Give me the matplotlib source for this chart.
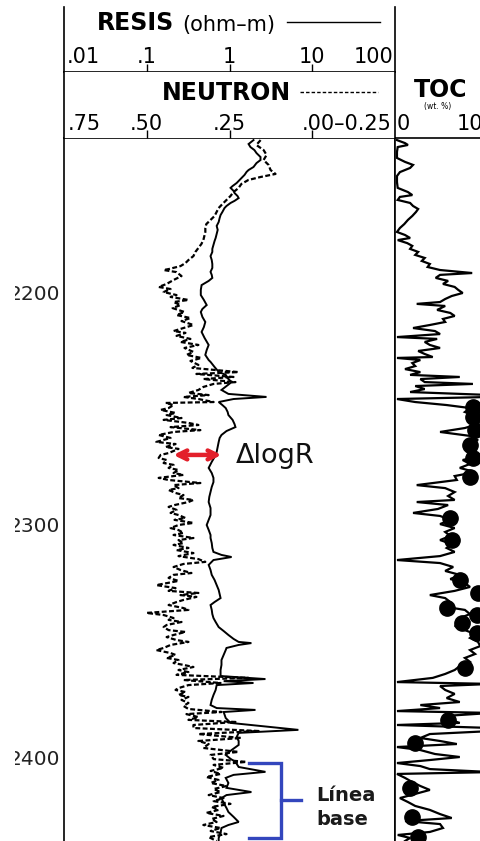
import matplotlib
matplotlib.use("Agg")
import matplotlib.pyplot as plt
from matplotlib.patches import Rectangle
from matplotlib.ticker import NullLocator

# ---------------- data ----------------
RES_DEPTH = [2134.1, 2135.8, 2137.1, 2138.4, 2139.7, 2141.4, 2142.7, 2144.0, 2145.7, 2147.0,
             2147.8, 2149.1, 2150.4, 2151.7, 2152.6, 2153.9, 2154.7, 2156.0, 2156.9, 2158.2,
             2159.1, 2160.3, 2161.2, 2162.5, 2163.4, 2165.1, 2166.4, 2167.7, 2169.4, 2171.1,
             2172.8, 2174.6, 2176.3, 2177.6, 2179.3, 2181.0, 2182.3, 2184.1, 2185.8, 2187.5,
             2189.2, 2190.9, 2192.2, 2193.5, 2194.8, 2196.6, 2198.7, 2200.9, 2203.0, 2205.2,
             2206.9, 2208.2, 2210.3, 2212.5, 2214.7, 2216.8, 2219.4, 2222.4, 2224.6, 2226.7,
             2228.9, 2229.7, 2231.9, 2234.0, 2235.3, 2237.1, 2238.4, 2240.1, 2241.8, 2243.5,
             2244.8, 2245.7, 2247.0, 2248.3, 2249.6, 2251.3, 2252.6, 2254.7, 2256.5, 2257.8,
             2259.5, 2261.2, 2262.5, 2264.2, 2266.4, 2268.5, 2270.7, 2272.8, 2275.4, 2277.6,
             2279.7, 2281.5, 2283.6, 2285.8, 2287.9, 2290.1, 2292.7, 2295.7, 2297.8, 2300.0,
             2302.1, 2304.3, 2305.6, 2307.8, 2309.9, 2311.6, 2312.9, 2313.8, 2315.1, 2317.2,
             2319.4, 2321.5, 2323.7, 2325.9, 2328.0, 2329.7, 2331.5, 2333.2, 2334.5, 2336.6,
             2338.4, 2340.1, 2341.8, 2344.0, 2345.7, 2347.4, 2349.1, 2350.4, 2350.9, 2351.7,
             2353.0, 2353.9, 2356.0, 2358.2, 2360.3, 2362.5, 2363.8, 2365.1, 2366.4, 2367.3,
             2368.1, 2369.0, 2371.1, 2373.3, 2375.4, 2377.6, 2378.9, 2379.7, 2380.6, 2383.2,
             2385.3, 2388.3, 2389.6, 2391.4, 2393.1, 2394.8, 2397.0, 2399.1, 2400.8, 2402.1,
             2404.3, 2406.4, 2407.7, 2409.0, 2411.2, 2413.3, 2415.1, 2416.4, 2417.7, 2419.8,
             2422.0, 2423.7, 2425.8, 2428.0, 2429.3, 2430.6, 2432.7, 2434.9, 2436.2]
RES_OHMM = [1.95, 1.70, 1.79, 2.00, 2.12, 2.37, 2.37, 2.12, 1.95, 1.70,
            1.61, 1.52, 1.40, 1.29, 1.22, 1.09, 1.03, 1.12, 1.15, 1.25,
            1.29, 1.15, 1.03, 0.92, 0.87, 0.82, 0.78, 0.76, 0.74, 0.70,
            0.72, 0.70, 0.68, 0.66, 0.64, 0.62, 0.62, 0.59, 0.61, 0.62,
            0.62, 0.59, 0.61, 0.62, 0.56, 0.46, 0.45, 0.45, 0.49, 0.53,
            0.47, 0.45, 0.47, 0.51, 0.49, 0.46, 0.50, 0.56, 0.53, 0.51,
            0.56, 0.59, 0.66, 0.74, 0.90, 0.97, 1.06, 0.92, 0.80, 0.97,
            2.80, 1.12, 0.74, 0.82, 0.90, 0.95, 0.97, 1.09, 1.15, 1.18,
            0.92, 0.80, 0.76, 0.74, 0.72, 0.70, 0.66, 0.61, 0.56, 0.61,
            0.64, 0.64, 0.61, 0.59, 0.57, 0.56, 0.59, 0.59, 0.56, 0.53,
            0.56, 0.59, 0.59, 0.61, 0.62, 0.64, 0.80, 1.06, 0.64, 0.56,
            0.59, 0.61, 0.66, 0.70, 0.74, 0.76, 0.78, 0.66, 0.59, 0.61,
            0.62, 0.64, 0.68, 0.74, 0.85, 0.97, 1.12, 1.29, 1.84, 1.29,
            0.92, 0.90, 0.85, 0.80, 0.80, 0.78, 0.78, 0.78, 2.72, 0.85,
            1.95, 0.70, 0.68, 0.64, 0.61, 0.59, 0.70, 2.06, 0.85, 0.90,
            1.03, 6.80, 1.29, 1.22, 1.29, 1.29, 1.06, 0.90, 1.03, 1.18,
            1.29, 2.72, 1.12, 0.90, 0.97, 0.92, 1.84, 0.92, 0.80, 0.85,
            0.92, 0.97, 1.12, 1.29, 0.97, 0.80, 0.78, 0.74, 0.74]

NEU_DEPTH = [2134.1, 2136.2, 2138.4, 2140.5, 2142.7, 2144.8, 2147.0, 2148.7, 2150.0, 2151.3,
             2153.0, 2154.8, 2156.5, 2158.2, 2159.9, 2161.6, 2163.4, 2165.1, 2166.8, 2168.5,
             2170.3, 2172.0, 2173.7, 2175.4, 2177.2, 2178.9, 2180.6, 2182.3, 2184.1, 2185.8,
             2187.1, 2188.4, 2189.7, 2190.1, 2191.0, 2192.7, 2194.4, 2196.1, 2197.4, 2198.3,
             2199.6, 2200.9, 2201.7, 2203.0, 2203.9, 2205.2, 2206.5, 2208.2, 2209.5, 2210.8,
             2212.1, 2213.8, 2215.1, 2216.4, 2217.2, 2218.5, 2219.8, 2221.1, 2222.4, 2223.7,
             2225.4, 2226.7, 2228.0, 2229.3, 2231.0, 2232.3, 2234.1, 2234.9, 2236.2, 2237.1,
             2238.4, 2239.2, 2240.5, 2241.8, 2243.1, 2244.0, 2244.8, 2245.7, 2247.0, 2247.4,
             2248.3, 2249.6, 2250.4, 2251.7, 2252.6, 2253.9, 2254.7, 2256.0, 2256.9, 2257.8,
             2259.1, 2259.9, 2261.2, 2262.5, 2264.2, 2265.1, 2266.4, 2267.2, 2269.0, 2269.8,
             2271.1, 2272.0, 2273.3, 2274.1, 2275.4, 2276.3, 2277.6, 2278.4, 2279.7, 2280.6,
             2281.9, 2282.8, 2284.1, 2284.9, 2286.2, 2287.1, 2288.4, 2289.2, 2290.1, 2291.4,
             2292.2, 2293.5, 2294.8, 2295.7, 2297.0, 2297.8, 2299.1, 2300.0, 2301.3, 2302.2,
             2303.4, 2304.3, 2305.6, 2306.5, 2307.8, 2308.6, 2309.9, 2310.8, 2312.1, 2313.4,
             2314.7, 2315.9, 2316.8, 2318.1, 2319.4, 2320.7, 2321.5, 2322.8, 2324.1, 2325.9,
             2327.2, 2328.4, 2329.3, 2330.2, 2331.0, 2332.3, 2333.2, 2334.5, 2335.8, 2336.6,
             2337.9, 2338.8, 2340.1, 2340.9, 2341.8, 2343.1, 2344.0, 2345.3, 2346.1, 2347.4,
             2348.3, 2349.6, 2350.4, 2351.7, 2353.0, 2353.9, 2355.2, 2356.0, 2357.3, 2358.2,
             2359.5, 2360.3, 2361.2, 2362.5, 2363.4, 2364.6, 2365.9, 2366.8, 2368.1, 2369.0,
             2370.3, 2371.1, 2372.0, 2373.3, 2374.1, 2375.4, 2376.7, 2378.0, 2379.3, 2380.6,
             2381.5, 2382.8, 2384.0, 2384.9, 2386.2, 2387.5, 2388.8, 2390.1, 2391.8, 2393.1,
             2394.4, 2396.1, 2397.8, 2399.1, 2400.9, 2402.1, 2403.4, 2404.7, 2406.0, 2407.3,
             2408.6, 2409.9, 2411.2, 2412.5, 2413.8, 2415.1, 2416.4, 2417.7, 2419.0, 2420.2,
             2421.5, 2422.8, 2424.1, 2425.4, 2426.7, 2428.0, 2429.3, 2430.6, 2431.9, 2433.2,
             2434.5, 2436.2]
NEU_FRAC = [0.156, 0.169, 0.147, 0.138, 0.147, 0.132, 0.126, 0.111, 0.156, 0.193,
            0.214, 0.223, 0.238, 0.247, 0.259, 0.271, 0.283, 0.289, 0.295, 0.307,
            0.320, 0.323, 0.323, 0.326, 0.329, 0.335, 0.344, 0.353, 0.359, 0.374,
            0.383, 0.398, 0.434, 0.449, 0.410, 0.395, 0.419, 0.440, 0.464, 0.428,
            0.449, 0.410, 0.428, 0.374, 0.419, 0.398, 0.422, 0.386, 0.410, 0.368,
            0.395, 0.359, 0.389, 0.419, 0.383, 0.410, 0.368, 0.398, 0.344, 0.386,
            0.359, 0.380, 0.335, 0.368, 0.344, 0.362, 0.223, 0.350, 0.238, 0.329,
            0.232, 0.298, 0.329, 0.344, 0.374, 0.313, 0.389, 0.344, 0.298, 0.443,
            0.419, 0.434, 0.458, 0.413, 0.440, 0.395, 0.449, 0.374, 0.344, 0.428,
            0.338, 0.419, 0.464, 0.428, 0.471, 0.413, 0.443, 0.404, 0.434, 0.458,
            0.464, 0.440, 0.449, 0.419, 0.434, 0.404, 0.419, 0.389, 0.464, 0.434,
            0.338, 0.419, 0.404, 0.434, 0.413, 0.389, 0.404, 0.359, 0.374, 0.416,
            0.434, 0.410, 0.428, 0.404, 0.383, 0.416, 0.359, 0.404, 0.428, 0.404,
            0.389, 0.419, 0.359, 0.404, 0.389, 0.419, 0.374, 0.410, 0.359, 0.404,
            0.344, 0.323, 0.389, 0.419, 0.398, 0.365, 0.419, 0.434, 0.404, 0.471,
            0.413, 0.434, 0.344, 0.398, 0.350, 0.389, 0.410, 0.434, 0.389, 0.374,
            0.501, 0.449, 0.419, 0.434, 0.395, 0.440, 0.449, 0.434, 0.383, 0.419,
            0.440, 0.410, 0.374, 0.428, 0.449, 0.471, 0.428, 0.413, 0.440, 0.404,
            0.419, 0.389, 0.359, 0.404, 0.374, 0.410, 0.193, 0.389, 0.277, 0.374,
            0.404, 0.413, 0.383, 0.404, 0.374, 0.395, 0.374, 0.389, 0.374, 0.274,
            0.380, 0.344, 0.374, 0.232, 0.359, 0.359, 0.162, 0.344, 0.214, 0.344,
            0.313, 0.329, 0.223, 0.307, 0.298, 0.199, 0.298, 0.268, 0.307, 0.277,
            0.320, 0.283, 0.307, 0.259, 0.298, 0.277, 0.313, 0.268, 0.298, 0.247,
            0.304, 0.283, 0.320, 0.268, 0.304, 0.289, 0.329, 0.277, 0.307, 0.259,
            0.313, 0.289]

TOC_DEPTH = [2134.1, 2135.4, 2136.2, 2137.1, 2139.2, 2141.8, 2143.5, 2144.8, 2146.1, 2147.9,
             2149.6, 2152.2, 2154.7, 2156.5, 2157.8, 2158.6, 2159.9, 2161.2, 2162.5, 2163.8,
             2165.1, 2166.8, 2168.5, 2170.3, 2172.0, 2173.7, 2175.0, 2176.3, 2177.2, 2178.5,
             2179.7, 2181.0, 2182.3, 2183.6, 2184.9, 2186.2, 2187.5, 2188.8, 2190.1, 2191.4,
             2192.2, 2193.5, 2194.8, 2196.1, 2197.4, 2198.7, 2200.0, 2201.3, 2202.6, 2203.9,
             2204.7, 2205.6, 2207.3, 2208.6, 2209.9, 2211.2, 2212.5, 2213.8, 2215.1, 2216.4,
             2217.7, 2219.0, 2219.8, 2221.1, 2222.4, 2223.7, 2225.0, 2226.3, 2227.6, 2228.0,
             2228.9, 2230.2, 2231.5, 2232.8, 2234.1, 2235.3, 2236.2, 2237.1, 2238.4, 2239.2,
             2240.1, 2241.4, 2242.7, 2244.0, 2244.8, 2245.7, 2247.0, 2248.3, 2249.6, 2251.3,
             2253.0, 2254.7, 2256.5, 2258.2, 2259.9, 2261.6, 2263.4, 2265.1, 2266.8, 2268.5,
             2270.3, 2272.0, 2273.7, 2275.4, 2277.2, 2278.9, 2280.6, 2282.8, 2284.1, 2285.8,
             2287.5, 2289.2, 2290.1, 2291.4, 2293.1, 2294.8, 2296.1, 2297.8, 2299.6, 2301.3,
             2303.0, 2304.7, 2306.5, 2308.2, 2309.9, 2311.6, 2313.4, 2315.1, 2316.4, 2318.1,
             2319.8, 2321.5, 2323.3, 2325.0, 2326.7, 2328.4, 2330.2, 2331.5, 2333.2, 2334.9,
             2336.6, 2338.4, 2340.1, 2341.8, 2343.5, 2345.3, 2347.0, 2348.7, 2350.4, 2352.2,
             2353.9, 2355.6, 2357.3, 2359.0, 2360.8, 2362.5, 2364.2, 2365.9, 2367.7, 2368.5,
             2369.4, 2371.1, 2372.8, 2374.6, 2376.3, 2377.6, 2378.9, 2380.2, 2381.0, 2382.3,
             2384.0, 2385.3, 2386.2, 2387.5, 2388.8, 2390.1, 2391.8, 2393.1, 2394.4, 2395.7,
             2397.0, 2398.7, 2400.0, 2401.3, 2402.6, 2403.9, 2405.2, 2406.5, 2407.3, 2409.0,
             2410.8, 2412.5, 2414.2, 2415.9, 2417.7, 2419.4, 2421.1, 2422.8, 2424.6, 2426.3,
             2427.6, 2428.9, 2430.6, 2432.3, 2433.6, 2434.9, 2436.2]
TOC_WT = [0.0, 1.1, 1.5, 0.1, 0.0, 0.0, 1.1, 2.2, 1.8, 0.4,
          0.0, 0.0, 0.1, 1.5, 2.1, 0.4, 0.1, 1.8, 2.2, 2.9,
          2.6, 2.1, 1.5, 1.0, 0.4, 0.0, 1.1, 1.8, 0.1, 1.4,
          2.1, 1.8, 2.9, 2.5, 3.8, 3.4, 4.5, 4.2, 5.9, 10.3,
          5.9, 5.3, 7.0, 6.3, 7.9, 8.4, 9.0, 7.5, 6.6, 5.9,
          2.7, 6.6, 5.5, 7.3, 7.9, 6.3, 6.6, 4.5, 2.2, 5.2,
          5.9, 0.0, 5.5, 3.8, 4.5, 5.9, 2.9, 3.8, 4.9, 0.0,
          3.2, 2.1, 2.5, 1.1, 3.2, 1.8, 8.6, 3.2, 3.8, 10.4,
          2.5, 3.8, 1.8, 13.0, 13.0, 0.0, 2.5, 6.8, 10.0, 9.3,
          10.7, 10.0, 11.1, 9.3, 5.9, 10.0, 11.1, 9.3, 10.3, 9.7,
          11.1, 9.0, 10.0, 8.6, 10.7, 7.9, 8.2, 2.7, 6.6, 7.9,
          7.0, 7.9, 2.7, 7.0, 5.6, 2.2, 5.9, 7.3, 5.9, 7.9,
          6.6, 7.3, 5.9, 7.5, 6.8, 7.9, 5.9, 0.0, 5.9, 7.7,
          6.6, 8.6, 7.3, 9.3, 10.0, 7.9, 4.5, 6.6, 7.3, 5.9,
          9.3, 10.0, 8.6, 10.0, 7.9, 9.3, 10.7, 10.0, 11.1, 11.4,
          10.0, 10.7, 9.3, 10.0, 8.6, 7.9, 6.6, 4.9, 0.0, 13.0,
          5.9, 6.6, 7.9, 6.8, 8.6, 3.2, 5.9, 0.0, 13.0, 6.6,
          7.3, 8.6, 0.0, 13.0, 13.0, 4.5, 3.2, 5.9, 8.2, 0.0,
          3.2, 5.2, 8.6, 4.5, 0.0, 3.2, 4.5, 13.0, 0.0, 1.1,
          2.1, 3.2, 4.5, 2.5, 0.4, 1.5, 2.5, 4.5, 5.9, 7.5,
          1.1, 5.9, 6.3, 4.5, 0.1, 1.8, 1.1]

CORE_DEPTH = [2249.1, 2253.4, 2259.1, 2265.5, 2271.1, 2279.3, 2297.0, 2306.5, 2323.7, 2329.3,
              2335.8, 2338.8, 2342.2, 2346.5, 2361.6, 2384.0, 2394.0, 2413.3, 2425.8, 2434.5]
CORE_TOC = [10.4, 10.4, 10.7, 10.0, 10.4, 10.0, 7.3, 7.5, 8.6, 11.1,
            6.8, 11.0, 8.9, 11.0, 9.3, 7.0, 2.5, 1.8, 2.1, 2.9]

DEPTH_TICKS = [2200, 2300, 2400]
RES_TICKS = [0.01, 0.1, 1, 10, 100]
RES_TICK_LABELS = [".01", ".1", "1", "10", "100"]
NEU_TICKS = [0.75, 0.50, 0.25, 0.00, -0.25]
NEU_TICK_LABELS = [".75", ".50", ".25", ".00\u20130.25"]
TOC_TICKS = [0, 10]

# annotation anchors (data coordinates)
ARROW_DEPTH = 2269.8
ARROW_FROM, ARROW_TO = 0.21, 0.80
DLOGR_X, DLOGR_DEPTH = 1.18, 2273.3
BRACKET_TOP, BRACKET_BOT, BRACKET_MID = 2402.6, 2434.9, 2418.5
BRACKET_ARM, BRACKET_SPINE, BRACKET_TIP = 1.70, 4.25, 7.41
BASE_TEXT_X, BASE_TEXT_DEPTH = 11.2, 2421.6

DEPTH_TOP, DEPTH_BOTTOM = 2133.2, 2436.2
TOC_LIM = (-0.27, 20.27)

# ---------------- figure ----------------
W, H = 480, 841
fig = plt.figure(figsize=(4.8, 8.41), dpi=100)
fig.patch.set_facecolor("white")


def fbox(x0, y0, x1, y1):
    return [x0 / W, 1 - y1 / H, (x1 - x0) / W, (y1 - y0) / H]


LW_FRAME = 1.2
HDR = "DejaVu Sans"

# main track
ax = fig.add_axes(fbox(64, 138, 395, 841))
ax.set_xscale("log")
ax.set_xlim(RES_TICKS[0], RES_TICKS[-1])
ax.set_ylim(DEPTH_BOTTOM, DEPTH_TOP)
ax.xaxis.set_major_locator(NullLocator())
ax.xaxis.set_minor_locator(NullLocator())
ax.set_yticks(DEPTH_TICKS)
ax.set_yticklabels([str(d) for d in DEPTH_TICKS], fontfamily=HDR, fontsize=14.5, color="#222222")
ax.tick_params(axis="y", length=0, pad=3)
ax.spines["bottom"].set_visible(False)
for s in ("left", "right", "top"):
    ax.spines[s].set_linewidth(LW_FRAME)
ax.plot(RES_OHMM, RES_DEPTH, color="black", lw=1.4, solid_joinstyle="miter")

axn = ax.twiny()
axn.set_xlim(NEU_TICKS[0], NEU_TICKS[-1])
axn.set_xticks([])
for s in axn.spines.values():
    s.set_visible(False)
axn.plot(NEU_FRAC, NEU_DEPTH, color="black", lw=1.6, ls=(0, (2.2, 1.1)))

# annotations
ax.annotate("", xy=(ARROW_FROM, ARROW_DEPTH), xytext=(ARROW_TO, ARROW_DEPTH),
            arrowprops=dict(arrowstyle="<->", color="#e3202b", lw=3.2, mutation_scale=16,
                            shrinkA=0, shrinkB=0), zorder=5)
ax.text(DLOGR_X, DLOGR_DEPTH, "\u0394logR", fontsize=19.5, fontfamily=HDR, color="#111111",
        ha="left", va="baseline")
ax.plot([BRACKET_ARM, BRACKET_SPINE, BRACKET_SPINE, BRACKET_ARM],
        [BRACKET_TOP, BRACKET_TOP, BRACKET_BOT, BRACKET_BOT], color="#3346bd", lw=2.4,
        solid_joinstyle="miter", clip_on=False)
ax.plot([BRACKET_SPINE, BRACKET_TIP], [BRACKET_MID, BRACKET_MID], color="#3346bd", lw=2.4)
ax.text(BASE_TEXT_X, BASE_TEXT_DEPTH, "L\u00ednea\nbase", fontsize=14, fontweight="bold",
        fontfamily=HDR, color="#1a1a1a", ha="left", va="center", linespacing=1.35)

# TOC track
axt = fig.add_axes(fbox(395, 138, 545, 841))
axt.set_xlim(*TOC_LIM)
axt.set_ylim(DEPTH_BOTTOM, DEPTH_TOP)
axt.set_xticks([])
axt.set_yticks([])
axt.spines["bottom"].set_visible(False)
axt.spines["right"].set_visible(False)
axt.spines["left"].set_linewidth(LW_FRAME)
axt.spines["top"].set_linewidth(LW_FRAME)
axt.plot(TOC_WT, TOC_DEPTH, color="black", lw=1.6, solid_joinstyle="miter")
axt.plot(CORE_TOC, CORE_DEPTH, "o", color="black", ms=11)

# header: resistivity
axr = fig.add_axes(fbox(64, 7, 395, 72))
axr.set_xscale("log")
axr.set_xlim(RES_TICKS[0], RES_TICKS[-1])
axr.set_ylim(0, 1)
axr.set_xticks(RES_TICKS[1:-1])
axr.xaxis.set_minor_locator(NullLocator())
axr.tick_params(axis="x", direction="in", length=6, width=1, labelbottom=False)
axr.set_yticks([])
axr.spines["top"].set_visible(False)
for s in ("left", "right", "bottom"):
    axr.spines[s].set_linewidth(LW_FRAME)
for v, lab in zip(RES_TICKS, RES_TICK_LABELS):
    ha = "left" if v == RES_TICKS[0] else ("right" if v == RES_TICKS[-1] else "center")
    xv = v * (1.07 if ha == "left" else (0.96 if ha == "right" else 1.0))
    axr.text(xv, 0.23, lab, fontsize=15, fontfamily=HDR, ha=ha, va="center")
axr.text(0.10, 0.75, "RESIS", transform=axr.transAxes, fontsize=17, fontweight="bold",
         fontfamily=HDR, ha="left", va="center")
axr.text(0.356, 0.73, "(ohm\u2013m)", transform=axr.transAxes, fontsize=15,
         fontfamily=HDR, ha="left", va="center")
axr.plot([0.674, 0.955], [0.77, 0.77], transform=axr.transAxes, color="black", lw=1.0)

# header: neutron
axnh = fig.add_axes(fbox(64, 72, 395, 138))
axnh.set_xlim(NEU_TICKS[0], NEU_TICKS[-1])
axnh.set_ylim(0, 1)
axnh.set_xticks(NEU_TICKS[1:-1])
axnh.tick_params(axis="x", direction="in", length=6, width=1, labelbottom=False)
axnh.set_yticks([])
axnh.spines["top"].set_visible(False)
axnh.spines["bottom"].set_visible(False)
for s in ("left", "right"):
    axnh.spines[s].set_linewidth(LW_FRAME)
for v, lab in zip(NEU_TICKS, NEU_TICK_LABELS):
    if v == NEU_TICKS[0]:
        axnh.text(v - 0.01, 0.21, lab, fontsize=15, fontfamily=HDR, ha="left", va="center")
    elif v == NEU_TICKS[-2]:
        axnh.text(NEU_TICKS[-1] + 0.01, 0.21, lab, fontsize=15, fontfamily=HDR, ha="right", va="center")
    else:
        axnh.text(v, 0.21, lab, fontsize=15, fontfamily=HDR, ha="center", va="center")
axnh.text(0.296, 0.68, "NEUTRON", transform=axnh.transAxes, fontsize=17, fontweight="bold",
          fontfamily=HDR, ha="left", va="center")
axnh.plot([0.713, 0.949], [0.70, 0.70], transform=axnh.transAxes, color="black", lw=1.0,
          ls=(0, (2.5, 1.5)))

# header: TOC
axth = fig.add_axes(fbox(395, 72, 545, 138))
axth.set_xlim(*TOC_LIM)
axth.set_ylim(0, 1)
axth.axis("off")
axth.text(6.0, 0.73, "TOC", fontsize=17, fontweight="bold", fontfamily=HDR, ha="center", va="center")
axth.text(5.5, 0.47, "(wt. %)", fontsize=5.5, fontfamily=HDR, ha="center", va="center")
axth.text(TOC_TICKS[0], 0.21, str(TOC_TICKS[0]), fontsize=15, fontfamily=HDR, ha="left", va="center")
axth.text(TOC_TICKS[1], 0.21, str(TOC_TICKS[1]), fontsize=15, fontfamily=HDR, ha="center", va="center")

# the depth labels are partly cut at the left edge of the original page
fig.add_artist(Rectangle((0, 0), 15 / W, 1, transform=fig.transFigure, facecolor="white",
                         edgecolor="none", zorder=20))

fig.savefig("out.png", dpi=100)
